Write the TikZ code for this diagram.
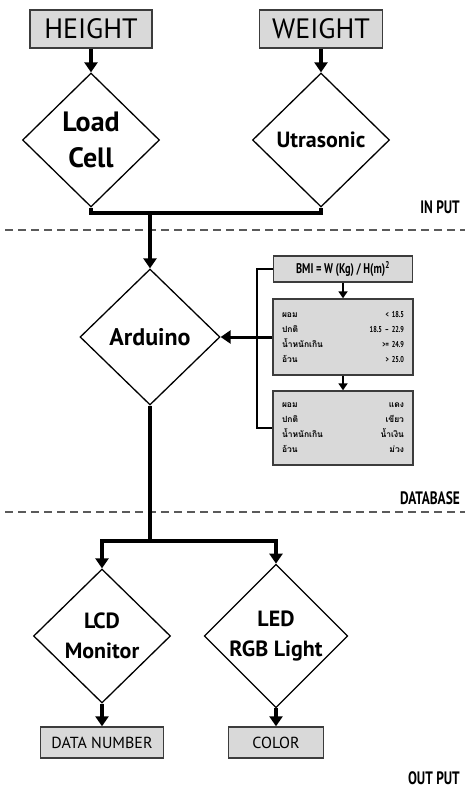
\documentclass[tikz,border=0pt]{standalone}
\usepackage{fontspec}
\setmainfont{PT Sans}
\newfontfamily\condfont[FakeStretch=0.74]{PT Sans}
\newfontfamily\thaifont[Script=Thai]{Loma}
\usetikzlibrary{arrows.meta,positioning,shapes.geometric}
\definecolor{boxGrey}{HTML}{D9D9D9}
\definecolor{rimGrey}{HTML}{3C3C3C}
\definecolor{sepGrey}{HTML}{5A5A5A}

% one table row: name on the left, value pushed right, #3 is the gap to the right rim
\newcommand{\dbrow}[3]{#1\hfill{#2}\hspace*{#3}}

\begin{document}
\begin{tikzpicture}[x=1pt, y=-1pt,
  >={Triangle[length=10pt, width=13pt]},
  box/.style   ={draw=rimGrey, fill=boxGrey, line width=1.4pt, inner sep=0pt},
  tbl/.style   ={box, minimum width=140pt, text width=122pt, align=left,
                 font=\thaifont\bfseries\fontsize{8.5pt}{15pt}\selectfont},
  sensor/.style={diamond, draw, line width=1.3pt, aspect=1, inner sep=0pt, align=center,
                 minimum width=137pt, minimum height=134pt},
  bus/.style   ={draw, line width=3.6pt},
  flow/.style  ={->, draw, line width=3.6pt},
  feed/.style  ={->, draw, line width=3pt},
  hop/.style   ={-{Triangle[length=7pt, width=9pt]}, draw, line width=2pt},
  link/.style  ={draw, line width=2.4pt},
  sep/.style   ={draw=sepGrey, line width=1.2pt, dash pattern=on 8pt off 5pt},
  sect/.style  ={anchor=east, inner sep=0pt, font=\condfont\bfseries\fontsize{18pt}{18pt}\selectfont},
]
\useasboundingbox (0,0) rectangle (465,789);

% ---- columns, in pixels of the 465 x 789 sheet ---------------------------------
\pgfmathsetmacro{\xa}{91}    % height -> load cell
\pgfmathsetmacro{\xb}{321}   % weight -> utrasonic
\pgfmathsetmacro{\xm}{150}   % the trunk through the arduino
\pgfmathsetmacro{\xd}{343}   % database column
\pgfmathsetmacro{\xl}{102}   % lcd
\pgfmathsetmacro{\xr}{276}   % led

% ============================================================ IN PUT
\node[box, minimum width=122pt, minimum height=38pt,
      font=\fontsize{28pt}{28pt}\selectfont] (hgt) at (\xa,29) {HEIGHT};
\node[box, minimum width=123pt, minimum height=38pt,
      font=\fontsize{28pt}{28pt}\selectfont] (wgt) at (\xb,29) {WEIGHT};

\node[sensor, font=\bfseries\fontsize{28pt}{36pt}\selectfont] (load) at (\xa,140) {Load\\Cell};
\node[sensor, font=\bfseries\fontsize{22pt}{24pt}\selectfont] (ultra) at (\xb,140) {Utrasonic};

\draw[flow] (hgt) -- (load);
\draw[flow] (wgt) -- (ultra);

\coordinate (inJ) at (\xm,213);
\draw[bus] (load.south) |- (inJ) -| (ultra.south);

\draw[sep] (5,230) -- (465,230);
\node[sect] (lIn) at (460,207) {IN PUT};

% ============================================================ DATABASE
\node[sensor, minimum width=140pt, minimum height=136pt,
      font=\bfseries\fontsize{24pt}{24pt}\selectfont] (ard) at (\xm,337) {Arduino};
\draw[flow] (inJ) -- (ard);

\node[box, minimum width=139pt, minimum height=26pt,
      font=\condfont\bfseries\fontsize{14pt}{14pt}\selectfont] (bmi) at (\xd,269)
  {BMI = W (Kg) / H(m)\textsuperscript{2}};

\node[tbl, minimum height=76pt] (tabA) at (\xd,337)
  {\dbrow{ผอม}{\condfont < 18.5}{5pt}\\
   \dbrow{ปกติ}{\condfont 18.5 – 22.9}{5pt}\\
   \dbrow{น้ำหนักเกิน}{\condfont >= 24.9}{5pt}\\
   \dbrow{อ้วน}{\condfont > 25.0}{5pt}};
\node[tbl, minimum height=74pt] (tabB) at (\xd,428)
  {\dbrow{ผอม}{แดง}{15pt}\\
   \dbrow{ปกติ}{เขียว}{15pt}\\
   \dbrow{น้ำหนักเกิน}{น้ำเงิน}{15pt}\\
   \dbrow{อ้วน}{ม่วง}{15pt}};

\draw[hop] (bmi) -- (tabA);
\draw[hop] (tabA) -- (tabB);

% the rail ties the formula and the colour table to the same side feed
\coordinate (rail) at (257,337);
\draw[link] (bmi.west) -- (bmi.west -| rail) |- (tabB.west);
\draw[feed] (tabA.west) -- (ard.east);

\draw[sep] (5,512) -- (465,512);
\node[sect] (lDb) at (460,498) {DATABASE};

% ============================================================ OUT PUT
\node[sensor, font=\bfseries\fontsize{22pt}{30pt}\selectfont] (lcd) at (\xl,636) {LCD\\Monitor};
\node[sensor, font=\bfseries\fontsize{22pt}{30pt}\selectfont] (led) at (\xr,636) {LED\\RGB Light};

\coordinate (outJ) at (\xm,541);
\draw[bus] (ard.south) -- (outJ);
\draw[flow] (outJ) -| (lcd.north);
\draw[flow] (outJ) -| (led.north);

\node[box, minimum width=123pt, minimum height=31pt,
      font=\fontsize{16pt}{16pt}\selectfont] (num) at (\xl,742.5) {DATA NUMBER};
\node[box, minimum width=95pt, minimum height=31pt,
      font=\fontsize{16pt}{16pt}\selectfont] (col) at (\xr,742.5) {COLOR};

\draw[flow] (lcd) -- (num);
\draw[flow] (led) -- (col);

\node[sect] (lOut) at (460,778) {OUT PUT};

\end{tikzpicture}
\end{document}
